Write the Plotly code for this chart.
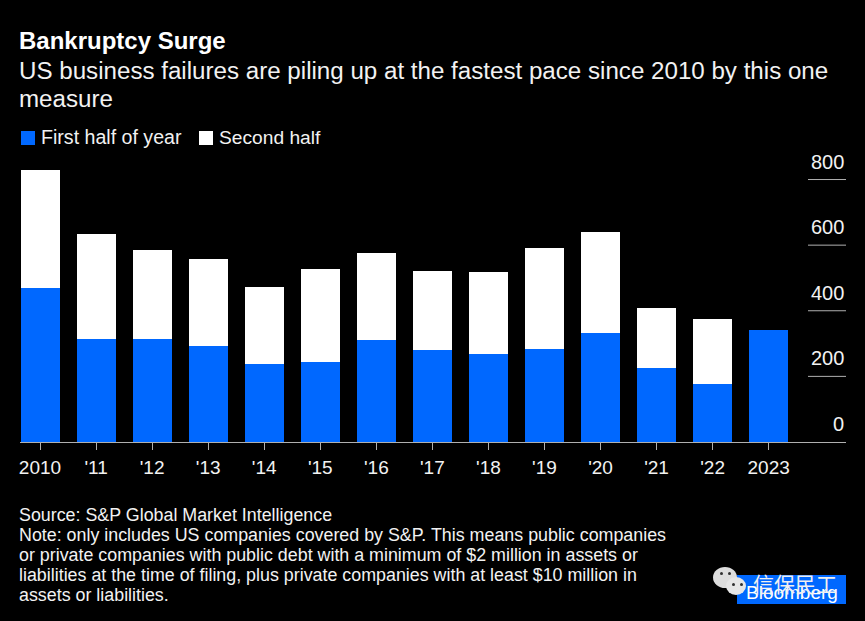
import plotly.graph_objects as go

years = ["2010", "'11", "'12", "'13", "'14", "'15", "'16", "'17", "'18", "'19", "'20", "'21", "'22", "2023"]
first_half = [469, 314, 314, 293, 238, 244, 311, 280, 268, 283, 332, 226, 177, 341]
second_half = [360, 320, 271, 265, 234, 283, 265, 241, 250, 308, 308, 182, 198, 0]
y_ticks = [0, 200, 400, 600, 800]
title = "Bankruptcy Surge"
subtitle = ["US business failures are piling up at the fastest pace since 2010 by this one", "measure"]
notes = [
    "Source: S&P Global Market Intelligence",
    "Note: only includes US companies covered by S&P. This means public companies",
    "or private companies with public debt with a minimum of $2 million in assets or",
    "liabilities at the time of filing, plus private companies with at least $10 million in",
    "assets or liabilities.",
]

W = 865
H = 621
BLUE = "#0068ff"
FONT = "Liberation Sans"
TEXT = "#f2f2f2"


def px(x):
    return x / W


def py(y):
    return 1 - y / H


def label(x, y, text, size, color=TEXT, anchor="left", bold=False, family=FONT):
    fig.add_annotation(
        x=px(x), y=py(y), xref="paper", yref="paper", text=f"<b>{text}</b>" if bold else text,
        showarrow=False, xanchor=anchor, yanchor="middle", borderpad=0,
        font=dict(family=family, size=size, color=color),
    )


def box(x0, y0, x1, y1, color):
    fig.add_shape(type="rect", xref="paper", yref="paper", x0=px(x0), x1=px(x1),
                  y0=py(y0), y1=py(y1), fillcolor=color, line_width=0, layer="above")


def blob(x0, y0, x1, y1, color):
    fig.add_shape(type="circle", xref="paper", yref="paper", x0=px(x0), x1=px(x1),
                  y0=py(y0), y1=py(y1), fillcolor=color, line_width=0, layer="above")


xs = list(range(len(years)))
fig = go.Figure()
fig.add_trace(go.Bar(x=xs, y=first_half, name="First half of year", marker_color=BLUE, marker_line_width=0, width=0.696))
fig.add_trace(go.Bar(x=xs, y=second_half, name="Second half", marker_color="#ffffff", marker_line_width=0, width=0.696))

fig.update_layout(
    width=W, height=H, barmode="stack", showlegend=False,
    paper_bgcolor="#000000", plot_bgcolor="#000000",
    margin=dict(l=0, r=0, t=0, b=0),
    font=dict(family=FONT, color=TEXT),
    xaxis=dict(domain=[px(20), px(846)], range=[-0.357, 14.38], tickmode="array", tickvals=xs, ticktext=years,
               ticks="outside", ticklen=7, tickwidth=1, tickcolor="#b0b0b0", showgrid=False, zeroline=False,
               showline=True, linecolor="#b0b0b0", linewidth=1, ticklabelstandoff=1, tickfont=dict(size=19, color=TEXT)),
    yaxis=dict(domain=[py(442), py(150)], range=[0, 890], showgrid=False, zeroline=False, showticklabels=False),
)

# gridlines only sit at the right edge, with the label on top of each
for t in y_ticks[1:]:
    fig.add_shape(type="line", xref="paper", yref="y", x0=px(808), x1=px(846), y0=t, y1=t,
                  line=dict(color="#b0b0b0", width=1))
for t in y_ticks:
    fig.add_annotation(x=px(846), y=t, xref="paper", yref="y", text=str(t), showarrow=False, xanchor="right",
                       yanchor="bottom", yshift=5, font=dict(family=FONT, size=20, color=TEXT))

label(18, 41, title, 24, color="#ffffff", bold=True)
label(18, 70, subtitle[0], 24.15)
label(18, 98, subtitle[1], 24.15)

box(21, 131, 35, 145, BLUE)
label(40, 137, "First half of year", 19.6)
box(199, 131, 213, 145, "#ffffff")
label(218, 137, "Second half", 19.2)

for i, line in enumerate(notes):
    label(18, 514.5 + i * 20.2, line, 17.85)

# Bloomberg tag and the wechat watermark over it
box(737, 575, 846, 604, BLUE)
label(792, 592, "Bloomberg", 19, color="#ffffff", anchor="center")
blob(713, 567, 737, 588, "#dddddd")
blob(726, 577, 746, 595, "#e6e6e6")
for ex, ey in [(720, 572), (728, 572), (732, 583), (740, 583)]:
    blob(ex, ey, ex + 3, ey + 3, "#303030")
label(752, 583, "信保民工", 21, color="#f0f0f0", family="Noto Sans CJK SC")

fig.write_html("out.html", config={"displayModeBar": False}, post_script="document.body.style.margin='0';")
